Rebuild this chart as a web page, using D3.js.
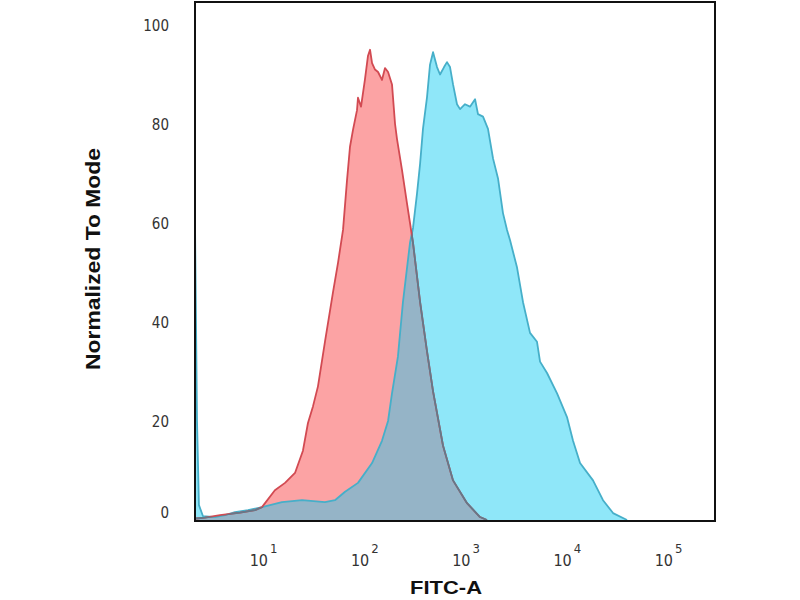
<!DOCTYPE html>
<html>
<head>
<meta charset="utf-8">
<script src="https://cdn.jsdelivr.net/npm/d3@7"></script>
<style>
  html, body { margin: 0; padding: 0; background: #fff; }
  svg { display: block; }
</style>
</head>
<body>
<div id="chart"></div>
<script>
// isotype control (red) - FITC-A intensity / normalized to mode
const isoFitc = [2.18, 2.67, 3.76, 5.93, 8.34, 9.77, 13.1, 16.5, 20.7, 24.8, 27.8, 31.2, 34.9, 40.9, 49.1, 55.1, 61.7, 67.6, 72.3, 77.4, 84.8, 86.7, 92.9, 101.6, 108.9, 114, 119.4, 127.7, 136.8, 149.6, 160.3, 171.8, 187.9, 201.4, 210.4, 236, 264, 283, 303, 356, 417, 478, 600, 753, 1035, 1390, 1630];
const isoMode = [0.3, 0.5, 1.0, 1.5, 2.0, 2.6, 6, 7.5, 9.5, 14, 19.6, 23, 27, 36, 46, 52, 58.6, 68.7, 75.4, 78.8, 82.8, 85.3, 83.5, 89, 93.8, 95, 92.3, 91, 90.5, 88.9, 91.3, 90.5, 88, 80, 77, 70.7, 64, 60, 56, 44, 34, 26, 15, 8, 3.4, 0.6, 0];

// stained sample (cyan)
const stainFitc = [2.13, 2.23, 2.33, 2.55, 3.36, 4.22, 5.29, 7.11, 9.77, 15.4, 24.3, 40.9, 51.4, 64.6, 86.7, 119.4, 149.6, 171.8, 187.9, 215, 241, 283, 303, 332, 356, 380, 417, 446, 478, 523, 560, 614, 656, 703, 753, 824, 883, 989, 1107, 1242, 1328, 1489, 1667, 1871, 2094, 2344, 2570, 2754, 3228, 3698, 4335, 5082, 5445, 6383, 8017, 10050, 11530, 13520, 18160, 22800, 28640, 39360];
const stainMode = [60, 20, 3, 0.8, 0.6, 1.0, 1.6, 2.0, 2.6, 3.6, 4, 3.6, 4, 5.7, 7.5, 11.5, 16, 20, 25.6, 33, 44, 56, 59, 66, 72, 79, 85.5, 92, 94.5, 91.5, 90, 91.5, 92.5, 91.5, 88, 84, 83, 84, 83.5, 85, 82, 81.5, 79, 73, 69, 62, 58.6, 56.5, 51, 44, 37.8, 36, 32, 29.7, 25.6, 20.8, 16, 11.5, 8, 4, 1.4, 0];

const xTicks = [10, 100, 1000, 10000, 100000];
const yTicks = [0, 20, 40, 60, 80, 100];
const xTitle = "FITC-A";
const yTitle = "Normalized To Mode";

const width = 800;
const height = 600;
const plot = { left: 195, right: 715, top: 2, bottom: 521 };

const svg = d3.select("#chart")
  .append("svg")
  .attr("width", width)
  .attr("height", height);

const x = d3.scaleLog().domain([2.13, 291000]).range([plot.left, plot.right]);
const y = d3.scaleLinear().domain([0, 100]).range([520, 25]);

const iso = isoFitc.map((v, i) => ({ f: v, m: isoMode[i] }));
const stain = stainFitc.map((v, i) => ({ f: v, m: stainMode[i] }));

const area = d3.area().x(d => x(d.f)).y0(y(0)).y1(d => y(d.m));
const line = d3.line().x(d => x(d.f)).y(d => y(d.m));

const defs = svg.append("defs");
defs.append("clipPath").attr("id", "plotClip")
  .append("rect")
  .attr("x", plot.left).attr("y", plot.top)
  .attr("width", plot.right - plot.left).attr("height", plot.bottom - plot.top);
defs.append("clipPath").attr("id", "stainClip")
  .append("path").attr("d", area(stain));

const g = svg.append("g").attr("clip-path", "url(#plotClip)");

g.append("path").attr("d", area(stain)).attr("fill", "#8fe7f9");
g.append("path").attr("d", area(iso)).attr("fill", "#fca3a4");
g.append("path").attr("d", area(iso)).attr("fill", "#95b4c7")
  .attr("clip-path", "url(#stainClip)");

g.append("path").attr("d", line(stain))
  .attr("fill", "none").attr("stroke", "#46afc9").attr("stroke-width", 1.8)
  .attr("stroke-linejoin", "round");
g.append("path").attr("d", line(iso))
  .attr("fill", "none").attr("stroke", "#d24a52").attr("stroke-width", 1.8)
  .attr("stroke-linejoin", "round");
g.append("g").attr("clip-path", "url(#stainClip)")
  .append("path").attr("d", line(iso))
  .attr("fill", "none").attr("stroke", "#62798a").attr("stroke-width", 1.8)
  .attr("stroke-linejoin", "round");

// frame
svg.append("rect")
  .attr("x", plot.left).attr("y", plot.top)
  .attr("width", plot.right - plot.left).attr("height", plot.bottom - plot.top)
  .attr("fill", "none").attr("stroke", "#111").attr("stroke-width", 2);

// y axis
const yAxis = svg.append("g")
  .attr("transform", `translate(${plot.left},0)`)
  .call(d3.axisLeft(y).tickValues(yTicks).tickSize(0).tickPadding(26));
yAxis.select(".domain").remove();
yAxis.selectAll("text")
  .attr("font-family", "DejaVu Sans Condensed, DejaVu Sans")
  .attr("font-size", 15)
  .attr("fill", "#333")
  .attr("dy", "0.36em")
  .attr("y", d => d === 0 ? -8 : 0);

// x axis
const xAxis = svg.append("g")
  .attr("transform", `translate(0,${plot.bottom})`)
  .call(d3.axisBottom(x).tickValues(xTicks).tickSize(0));
xAxis.select(".domain").remove();
xAxis.selectAll("text")
  .text(null)
  .attr("y", 45)
  .attr("dy", 0)
  .attr("font-family", "DejaVu Sans Condensed, DejaVu Sans")
  .attr("fill", "#333")
  .each(function (d) {
    const t = d3.select(this);
    t.append("tspan").attr("font-size", 16).text("10");
    t.append("tspan").attr("font-size", 13).attr("dx", 2).attr("dy", -13)
      .text(Math.round(Math.log10(d)));
  });

// titles
svg.append("text")
  .attr("x", 446).attr("y", 594)
  .attr("text-anchor", "middle")
  .attr("font-family", "Liberation Sans Narrow, Liberation Sans, Arial")
  .attr("font-weight", "bold")
  .attr("font-size", 19)
  .attr("textLength", 72).attr("lengthAdjust", "spacingAndGlyphs")
  .attr("fill", "#111")
  .text(xTitle);

svg.append("text")
  .attr("transform", "translate(100,259) rotate(-90)")
  .attr("text-anchor", "middle")
  .attr("font-family", "Liberation Sans Narrow, Liberation Sans, Arial")
  .attr("font-weight", "bold")
  .attr("font-size", 20)
  .attr("textLength", 222).attr("lengthAdjust", "spacingAndGlyphs")
  .attr("fill", "#111")
  .text(yTitle);
</script>
</body>
</html>
